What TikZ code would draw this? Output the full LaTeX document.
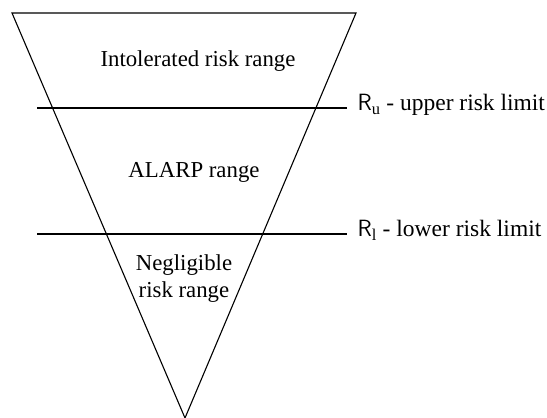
\documentclass[tikz,border=0pt]{standalone}
\usepackage{fontspec}
\setmainfont{Liberation Serif}
\usetikzlibrary{positioning}

\tikzset{
  zone/.style={font=\fontsize{22.8}{27}\selectfont, align=center, anchor=base, inner sep=0pt},
  limit/.style={font=\fontsize{23.5}{27}\selectfont, anchor=mid west, inner sep=0pt},
}

\begin{document}
\begin{tikzpicture}[x=1pt,y=1pt,yscale=-1,line width=1.1pt]
\useasboundingbox (0,0) rectangle (547,418);

% funnel corners
\coordinate (tl) at (12,13);
\coordinate (tr) at (356,13);
\coordinate (apex) at (185,418);
\draw[line join=miter] (tl) -- (tr) -- (apex) -- cycle;

% limit lines
\coordinate (ua) at (37,108);
\coordinate (ub) at (347,108);
\coordinate (la) at (37,234);
\coordinate (lb) at (347,234);
\draw (ua) -- (ub);
\draw (la) -- (lb);

% limit labels
\node[limit, right=10pt of ub, anchor=mid west] (ru) {{\sffamily R}\textsubscript{u} - upper risk limit};
\node[limit, right=10pt of lb, anchor=mid west] (rl) {{\sffamily R}\textsubscript{l} - lower risk limit};

% range labels
\node[zone] (intol) at (198,66) {Intolerated risk range};
\node[zone] (alarp) at (194,177) {ALARP range};
\node[zone] (neglig) at (184,270) {Negligible};
\node[zone] (riskr) at (184,297) {risk range};

\end{tikzpicture}
\end{document}
